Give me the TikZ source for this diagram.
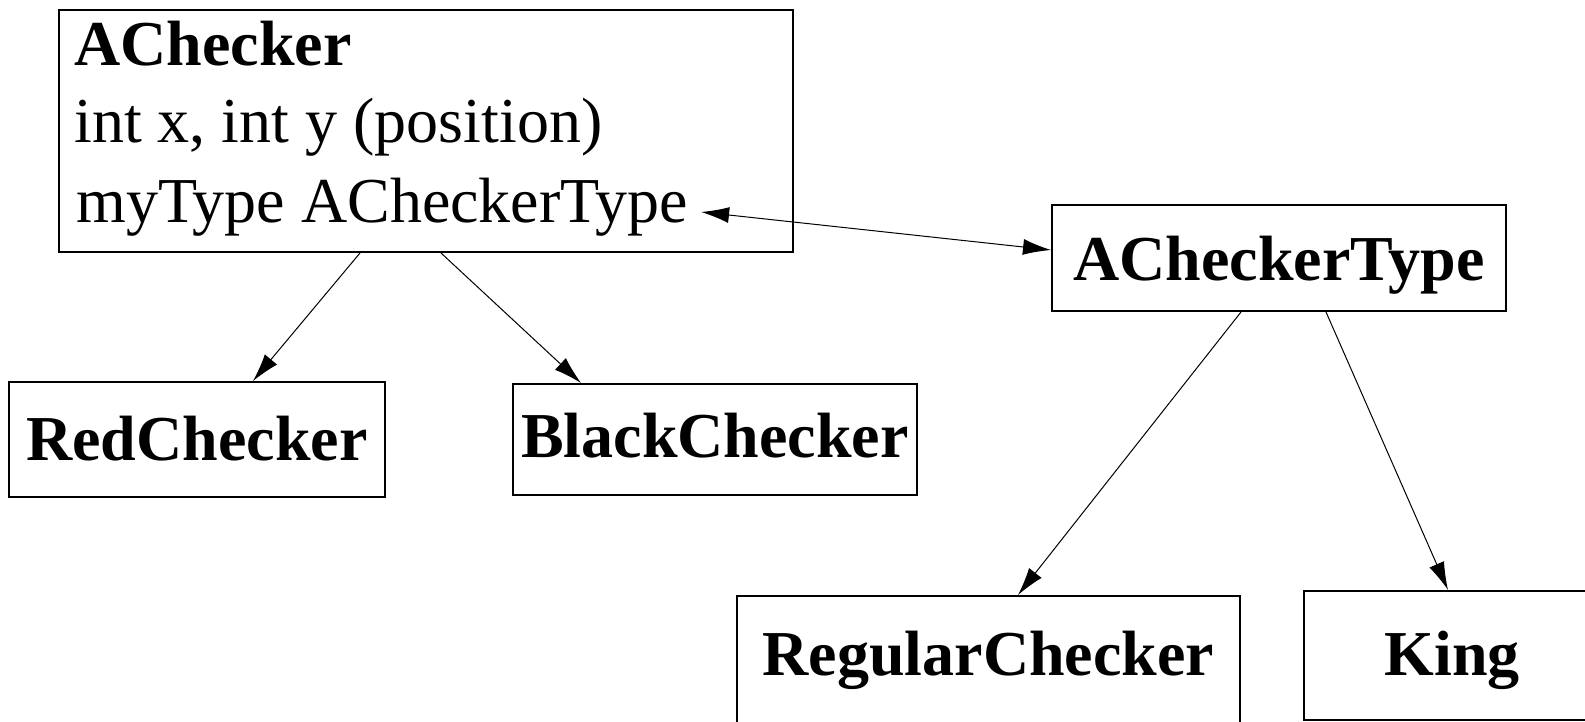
\documentclass[tikz,border=0pt]{standalone}
\usepackage{fontspec}
\setmainfont{Liberation Serif}
\usetikzlibrary{arrows.meta}
\begin{document}
\begin{tikzpicture}[x=0.5pt,y=-0.5pt,
		box/.style={draw, line width=1pt, inner sep=0pt, font=\fontsize{32}{38}\selectfont\bfseries},
		txt/.style={inner sep=0pt, anchor=base west, font=\fontsize{32}{38}\selectfont},
		link/.style={line width=0.5pt, -{Latex[length=14pt,width=8pt]}}]
	\useasboundingbox (0,0) rectangle (1585,722);
	\clip (0,0) rectangle (1585,722);
	\node [box, minimum width=367pt, minimum height=121pt] (achecker) at (426,131) {};
	\node [txt, font=\fontsize{32}{38}\selectfont\bfseries] (acname) at (74,66) {AChecker};
	\node [txt] (acpos) at (74,142) {int x, int y (position)};
	\node [txt, inner xsep=6.5pt, text height=10pt, text depth=0pt] (actype) at (63,222) {myType ACheckerType};
	\node [box, minimum width=227pt, text height=37.5pt, text depth=15.5pt] (ctype) at (1279,258) {ACheckerType};
	\node [box, minimum width=188pt, text height=39pt, text depth=18.5pt] (red) at (197,439.5) {RedChecker};
	\node [box, minimum width=202pt, text height=36.5pt, text depth=19pt] (black) at (715,439.5) {BlackChecker};
	\node [box, minimum width=251.5pt, text height=39.5pt, text depth=32.5pt] (regular) at (988.5,668) {RegularChecker};
	\node [box, minimum width=148pt, text height=42pt, text depth=22.5pt] (king) at (1452,655.5) {King};
	\draw [link, {Latex[length=14pt,width=8pt]}-{Latex[length=14pt,width=8pt]}] (actype.east) -- ([yshift=4pt]ctype.west);
	\draw [link] ([xshift=-33pt]achecker.south) -- ([xshift=28pt]red.north);
	\draw [link] ([xshift=7.5pt]achecker.south) -- ([xshift=-67pt]black.north);
	\draw [link] ([xshift=-19pt]ctype.south) -- ([xshift=14.75pt]regular.north);
	\draw [link] ([xshift=23.5pt]ctype.south) -- ([xshift=-2pt]king.north);
\end{tikzpicture}
\end{document}
